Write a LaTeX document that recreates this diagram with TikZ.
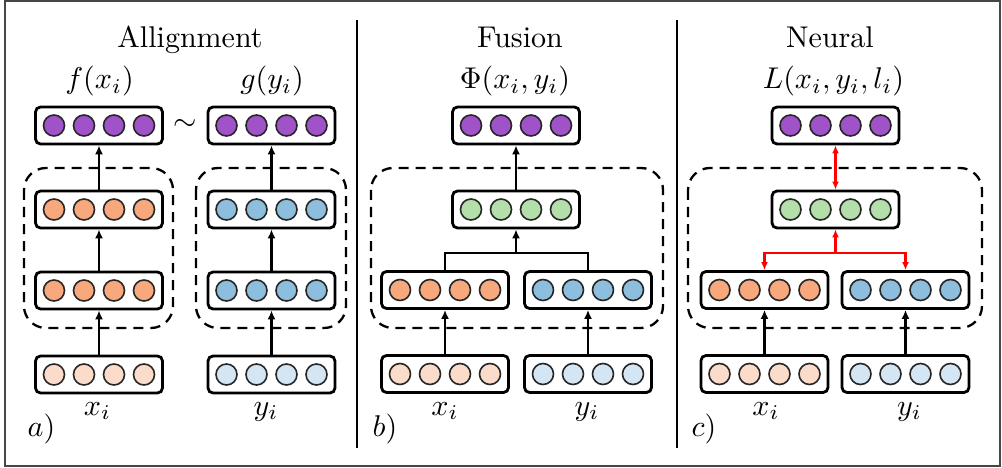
\documentclass[tikz,border=0pt]{standalone}
\usetikzlibrary{arrows.meta,calc}
\definecolor{cpurple}{RGB}{160,82,200}
\definecolor{corange}{RGB}{247,168,125}
\definecolor{clorange}{RGB}{251,220,202}
\definecolor{cblue}{RGB}{141,190,222}
\definecolor{clblue}{RGB}{212,229,244}
\definecolor{cgreen}{RGB}{180,222,170}
\definecolor{cframe}{RGB}{70,70,70}
\newcommand{\nnlayer}[4]{%
  \node[layerbox] (#1) at (#2,#3) {};
  \foreach \k/\dx in {1/-45,2/-15,3/15,4/45}
    \node[unit, fill=#4] (#1-\k) at ({#2+\dx},#3) {};
}
\newcommand{\bigt}[1]{\scalebox{3.0}{#1}}
\begin{document}
\begin{tikzpicture}[x=1pt,y=-1pt,
  layerbox/.style={draw, line width=2.8pt, rounded corners=5pt, minimum width=127pt, minimum height=37pt, inner sep=0pt, fill=white},
  unit/.style={circle, draw=black!85, line width=1.6pt, minimum size=21pt, inner sep=0pt},
  dashbox/.style={draw, line width=2.3pt, dash pattern=on 10pt off 7pt, rounded corners=22pt},
  arr/.style={line width=2.4pt, -{Latex[length=9pt,width=8pt]}},
  redboth/.style={red, line width=2.2pt, {Latex[length=8pt,width=7pt]}-{Latex[length=8pt,width=7pt]}},
  redone/.style={red, line width=2.2pt, -{Latex[length=8pt,width=7pt]}},
  conn/.style={line width=2.4pt},
  bigtxt/.style={inner sep=0pt, anchor=base},
  divider/.style={line width=2.8pt}
]
\useasboundingbox (0,0) rectangle (1002,468);
\draw[cframe, line width=2.4pt] (5,1) rectangle (1000,466);
\draw[divider] (357,20) -- (357,448);
\draw[divider] (677,20) -- (677,448);

% ---------- panel a ----------
\draw[dashbox] (24,168) rectangle (173,328);
\draw[dashbox] (196,168) rectangle (346,328);
\node[bigtxt] (ta) at (190,48) {\bigt{Allignment}};
\node[bigtxt] (fa) at (99.5,89) {\bigt{$f(x_i)$}};
\node[bigtxt] (ga) at (272,89) {\bigt{$g(y_i)$}};
\nnlayer{atl}{99}{125.5}{cpurple}
\nnlayer{atr}{271.5}{125.5}{cpurple}
\node[inner sep=0pt] (tilde) at (185,125) {\bigt{$\sim$}};
\nnlayer{a2l}{99}{209.5}{corange}
\nnlayer{a2r}{271.5}{209.5}{cblue}
\nnlayer{a1l}{99}{290.5}{corange}
\nnlayer{a1r}{271.5}{290.5}{cblue}
\nnlayer{ail}{99}{374.5}{clorange}
\nnlayer{air}{271.5}{374.5}{clblue}
\draw[arr] (ail.north) -- (a1l.south);
\draw[arr] (a1l.north) -- (a2l.south);
\draw[arr] (a2l.north) -- (atl.south);
\draw[arr] (air.north) -- (a1r.south);
\draw[arr] (a1r.north) -- (a2r.south);
\draw[arr] (a2r.north) -- (atr.south);
\node[bigtxt] (xa) at (97.5,415) {\bigt{$x_i$}};
\node[bigtxt] (ya) at (266,415) {\bigt{$y_i$}};
\node[bigtxt] (la) at (41.5,436) {\bigt{$a)$}};

% ---------- panel b ----------
\draw[dashbox] (371,168) rectangle (663,328);
\node[bigtxt] (tb) at (520,48) {\bigt{Fusion}};
\node[bigtxt] (fb) at (515,89) {\bigt{$\Phi(x_i,y_i)$}};
\nnlayer{btop}{516}{125.5}{cpurple}
\nnlayer{bgr}{516}{209.5}{cgreen}
\nnlayer{bor}{445}{290}{corange}
\nnlayer{bbl}{588}{290}{cblue}
\nnlayer{bil}{445}{374}{clorange}
\nnlayer{bir}{588}{374}{clblue}
\coordinate (jb) at (516,253);
\draw[arr] (bgr.north) -- (btop.south);
\draw[conn] (bor.north) |- (jb) -| (bbl.north);
\draw[arr] (jb) -- (bgr.south);
\draw[arr] (bil.north) -- (bor.south);
\draw[arr] (bir.north) -- (bbl.south);
\node[bigtxt] (xb) at (445,415) {\bigt{$x_i$}};
\node[bigtxt] (yb) at (587,415) {\bigt{$y_i$}};
\node[bigtxt] (lb) at (385,436) {\bigt{$b)$}};

% ---------- panel c ----------
\draw[dashbox] (688,168) rectangle (982,328);
\node[bigtxt] (tc) at (830,48) {\bigt{Neural}};
\node[bigtxt] (fc) at (833.5,89) {\bigt{$L(x_i,y_i,l_i)$}};
\nnlayer{ctop}{835.5}{125.5}{cpurple}
\nnlayer{cgr}{835.5}{209.5}{cgreen}
\nnlayer{cor}{764.5}{290}{corange}
\nnlayer{cbl}{905.5}{290}{cblue}
\nnlayer{cil}{764.5}{374}{clorange}
\nnlayer{cir}{905.5}{374}{clblue}
\coordinate (jc) at (835.5,253);
\draw[redboth] (ctop.south) -- (cgr.north);
\draw[redboth] (cor.north) |- (jc) -| (cbl.north);
\draw[redone] (jc) -- (cgr.south);
\draw[arr] (cil.north) -- (cor.south);
\draw[arr] (cir.north) -- (cbl.south);
\node[bigtxt] (xc) at (766,415) {\bigt{$x_i$}};
\node[bigtxt] (yc) at (909.5,415) {\bigt{$y_i$}};
\node[bigtxt] (lc) at (704,436) {\bigt{$c)$}};
\end{tikzpicture}
\end{document}
